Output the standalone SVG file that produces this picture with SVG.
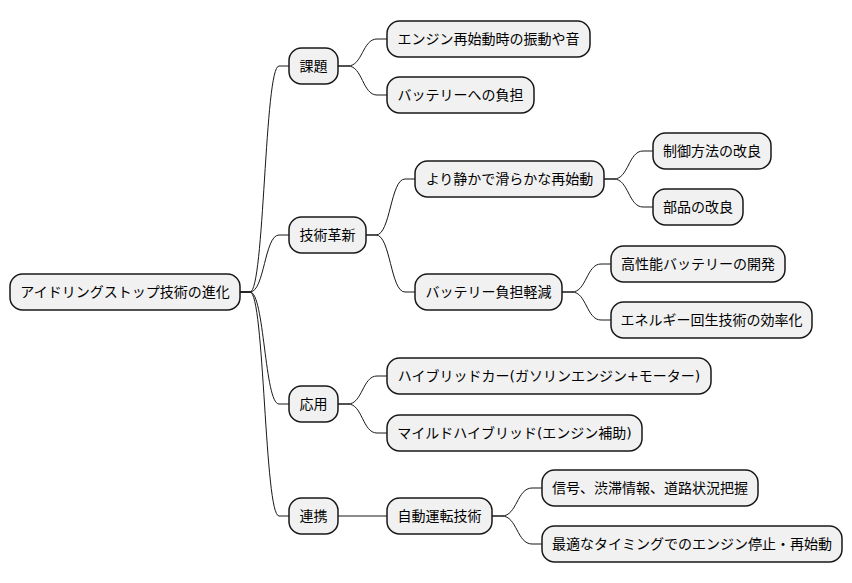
<svg xmlns="http://www.w3.org/2000/svg" width="852" height="583" viewBox="0 0 852 583">
<style>
.n rect{fill:#F1F1F1;stroke:#181818;stroke-width:1.5}
.n text{font-family:"DejaVu Sans","Noto Sans CJK JP",sans-serif;font-size:14px;fill:#000;text-anchor:middle}
#edges path{fill:none;stroke:#181818;stroke-width:1}
</style>
<rect width="852" height="583" fill="#FFFFFF"/>
<g id="edges">
<path d="M240,292 H250 C264.5,292 264.5,66 279,66 H289"/>
<path d="M240,292 H250 C264.5,292 264.5,235 279,235 H289"/>
<path d="M240,292 H250 C264.5,292 264.5,404 279,404 H289"/>
<path d="M240,292 H250 C264.5,292 264.5,516 279,516 H289"/>
<path d="M338,66 H348 C362.5,66 362.5,39 377,39 H387"/>
<path d="M338,66 H348 C362.5,66 362.5,95 377,95 H387"/>
<path d="M366,235 H376 C390.5,235 390.5,179 405,179 H415"/>
<path d="M366,235 H376 C390.5,235 390.5,292 405,292 H415"/>
<path d="M604,179 H614 C628.5,179 628.5,151 643,151 H653"/>
<path d="M604,179 H614 C628.5,179 628.5,207 643,207 H653"/>
<path d="M562,292 H572 C586.5,292 586.5,264 601,264 H611"/>
<path d="M562,292 H572 C586.5,292 586.5,320 601,320 H611"/>
<path d="M338,404 H348 C362.5,404 362.5,376 377,376 H387"/>
<path d="M338,404 H348 C362.5,404 362.5,433 377,433 H387"/>
<path d="M338,516 H387"/>
<path d="M492,516 H502 C517,516 517,488 532,488 H542"/>
<path d="M492,516 H502 C517,516 517,544 532,544 H542"/>
</g>
<g id="root" class="n"><rect x="10" y="274" width="230" height="36" rx="12.5"/><text x="125" y="297">アイドリングストップ技術の進化</text></g>
<g id="kadai" class="n"><rect x="289" y="48" width="49" height="36" rx="12.5"/><text x="313.5" y="71">課題</text></g>
<g id="kadai1" class="n"><rect x="387" y="21" width="203" height="36" rx="12.5"/><text x="488.5" y="44">エンジン再始動時の振動や音</text></g>
<g id="kadai2" class="n"><rect x="387" y="77" width="147" height="36" rx="12.5"/><text x="460.5" y="100">バッテリーへの負担</text></g>
<g id="gijutsu" class="n"><rect x="289" y="217" width="77" height="36" rx="12.5"/><text x="327.5" y="240">技術革新</text></g>
<g id="shizuka" class="n"><rect x="415" y="161" width="189" height="36" rx="12.5"/><text x="509.5" y="184">より静かで滑らかな再始動</text></g>
<g id="seigyo" class="n"><rect x="653" y="133" width="118" height="36" rx="12.5"/><text x="712" y="156">制御方法の改良</text></g>
<g id="buhin" class="n"><rect x="653" y="189" width="90" height="36" rx="12.5"/><text x="698" y="212">部品の改良</text></g>
<g id="keigen" class="n"><rect x="415" y="274" width="147" height="36" rx="12.5"/><text x="488.5" y="297">バッテリー負担軽減</text></g>
<g id="kousei" class="n"><rect x="611" y="246" width="174" height="36" rx="12.5"/><text x="698" y="269">高性能バッテリーの開発</text></g>
<g id="kaisei" class="n"><rect x="611" y="302" width="201" height="36" rx="12.5"/><text x="711.5" y="325">エネルギー回生技術の効率化</text></g>
<g id="ouyou" class="n"><rect x="289" y="386" width="49" height="36" rx="12.5"/><text x="313.5" y="409">応用</text></g>
<g id="hybrid" class="n"><rect x="387" y="358" width="324" height="36" rx="12.5"/><text x="549" y="381">ハイブリッドカー(ガソリンエンジン+モーター)</text></g>
<g id="mild" class="n"><rect x="387" y="415" width="255" height="36" rx="12.5"/><text x="514.5" y="438">マイルドハイブリッド(エンジン補助)</text></g>
<g id="renkei" class="n"><rect x="289" y="498" width="49" height="36" rx="12.5"/><text x="313.5" y="521">連携</text></g>
<g id="jidou" class="n"><rect x="387" y="498" width="105" height="36" rx="12.5"/><text x="439.5" y="521">自動運転技術</text></g>
<g id="shingou" class="n"><rect x="542" y="470" width="216" height="36" rx="12.5"/><text x="650" y="493">信号、渋滞情報、道路状況把握</text></g>
<g id="saiteki" class="n"><rect x="542" y="526" width="300" height="36" rx="12.5"/><text x="692" y="549">最適なタイミングでのエンジン停止・再始動</text></g>
</svg>
